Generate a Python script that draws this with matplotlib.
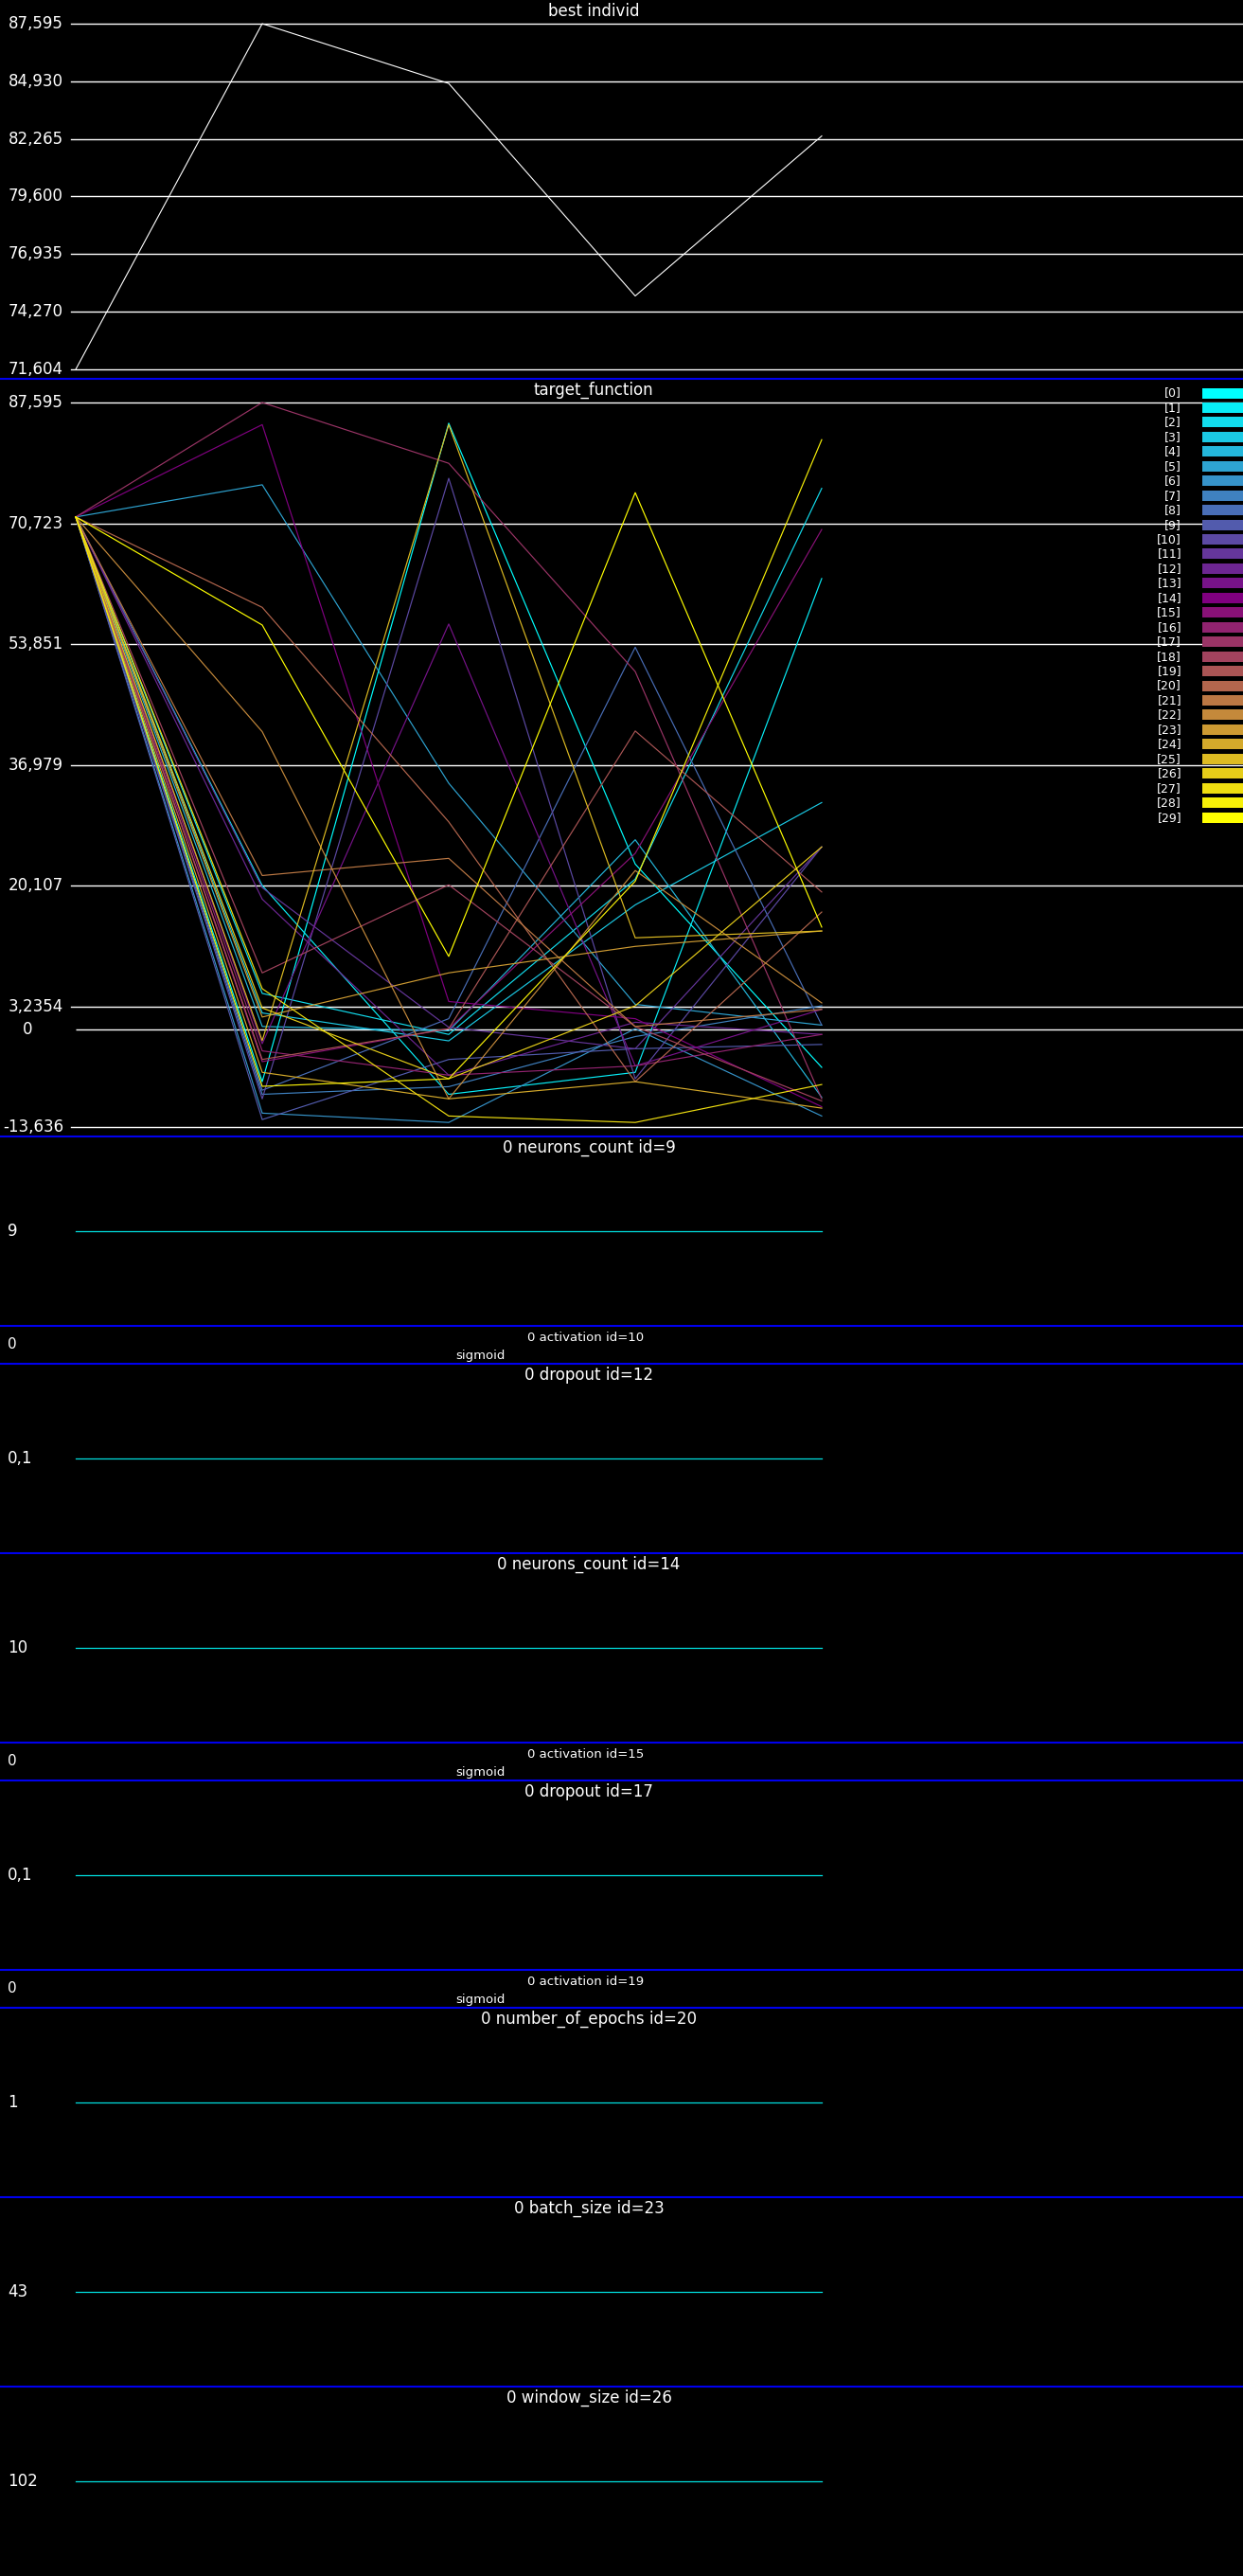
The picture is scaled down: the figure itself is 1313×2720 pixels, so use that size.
import matplotlib
matplotlib.use("Agg")
import matplotlib.pyplot as plt
from matplotlib import transforms
from matplotlib.patches import Rectangle
from matplotlib.colors import LinearSegmentedColormap

W, H = 1313, 2720  # output size in pixels

# ---- data ----
generations = [0, 1, 2, 3, 4]
best_individ = [71.604, 87.595, 84.83, 75.0, 82.4]
best_ticks = [71.604, 74.270, 76.935, 79.600, 82.265, 84.930, 87.595]
target_ticks = [87.595, 70.723, 53.851, 36.979, 20.107, 3.2354, 0, -13.636]

start_value = 71.604  # every individual starts here (generation 0)
# generations 1..4 for individuals [0]..[29]
individ_values = [
    [-7.3, 84.7, 23.1, -5.3],
    [20.1, -9.07, -6.0, 63.0],
    [5.03, -0.7, 21.0, 75.6],
    [2.3, -1.6, 17.4, 31.7],
    [0.41, -0.2, 26.5, -9.5],
    [76.1, 34.4, 3.5, 0.6],
    [-11.7, -13.0, 0.1, -12.1],
    [-9.07, -8.0, -1.0, 3.3],
    [-8.5, 1.5, 53.4, 0.6],
    [-12.6, -4.2, -2.7, -2.1],
    [-9.7, 77.0, -6.9, 25.5],
    [19.8, 0.3, -2.7, 25.5],
    [18.2, -6.4, 1.0, -0.7],
    [-2.0, 56.65, -5.1, 2.8],
    [84.5, 3.9, 1.5, -10.8],
    [-4.5, 0.1, 24.6, 69.85],
    [-3.0, -6.4, -5.1, -0.7],
    [87.595, 79.1, 50.0, -9.7],
    [7.9, 20.2, 0.4, -10.0],
    [-4.2, 0.1, 41.7, 19.2],
    [58.97, 29.0, -7.3, 16.4],
    [21.5, 23.9, 0.4, 2.8],
    [41.6, -9.7, 22.2, 3.7],
    [1.73, 7.9, 11.6, 13.75],
    [-6.0, -9.7, -7.3, -11.0],
    [-1.57, 84.5, 12.8, 13.75],
    [3.0, -6.9, 3.3, 25.5],
    [5.69, -12.1, -13.0, -7.7],
    [-7.95, -6.9, 20.7, 82.4],
    [56.5, 10.2, 75.0, 14.3],
]

param_titles = ["0 neurons_count id=9", "0 activation id=10", "0 dropout id=12",
                "0 neurons_count id=14", "0 activation id=15", "0 dropout id=17",
                "0 activation id=19", "0 number_of_epochs id=20", "0 batch_size id=23",
                "0 window_size id=26"]
param_series = [[9, 9, 9, 9, 9], "sigmoid", [0.1, 0.1, 0.1, 0.1, 0.1],
                [10, 10, 10, 10, 10], "sigmoid", [0.1, 0.1, 0.1, 0.1, 0.1],
                "sigmoid", [1, 1, 1, 1, 1], [43, 43, 43, 43, 43],
                [102, 102, 102, 102, 102]]

# ---- style ----
plt.rcParams['font.family'] = ['DejaVu Sans']
BLUE = "#0000ee"
PARAM_LINE = "#00e0e0"
cmap = LinearSegmentedColormap.from_list(
    "individs", [(0, "#00ffff"), (14 / 29, "#800080"), (1, "#ffff00")])


def fmt(v, spec):
    return format(v, spec).replace(".", ",")


fig = plt.figure(figsize=(W / 100, H / 100), dpi=100, facecolor="black")

# overlay in pixel coordinates for titles, separators and legend
over = fig.add_axes([0, 0, 1, 1])
over.set_xlim(0, W)
over.set_ylim(H, 0)
over.axis("off")
over.set_zorder(5)


def px_axes(top, bottom, left=75, right=W):
    ax = fig.add_axes([left / W, 1 - bottom / H, (right - left) / W, (bottom - top) / H])
    ax.set_facecolor("none")
    ax.axis("off")
    ax.set_xlim((left - 80) / 197, (right - 80) / 197)  # gen 0 at x=80, 197px per gen
    return ax


def label_tr(ax):
    return transforms.blended_transform_factory(over.transData, ax.transData)


# ---- best individ ----
ax = px_axes(25, 390)
ax.set_ylim(min(best_ticks), max(best_ticks))
for t in best_ticks:
    ax.axhline(t, color="white", lw=1.0, clip_on=False)
    ax.text(67, t, fmt(t, ".3f"), transform=label_tr(ax), ha="right", va="center",
            color="white", fontsize=12, clip_on=False)
ax.plot(generations, best_individ, color="white", lw=0.8, clip_on=False)
over.text(627, 12, "best individ", ha="center", va="center", color="white", fontsize=12)
over.hlines(400, 0, W, color=BLUE, lw=1.5)

# ---- target_function ----
ax = px_axes(425, 1190)
ax.set_ylim(min(target_ticks), max(target_ticks))
for t in target_ticks:
    if t == 0:
        ax.hlines(0, 0, ax.get_xlim()[1], color="white", lw=1.0, clip_on=False)
        ax.text(29, t, "0", transform=label_tr(ax), ha="center", va="center",
                color="white", fontsize=12, clip_on=False)
    else:
        ax.axhline(t, color="white", lw=1.0, clip_on=False)
        ax.text(67, t, fmt(t, ".5g"), transform=label_tr(ax), ha="right", va="center",
                color="white", fontsize=12, clip_on=False)
for i, vals in enumerate(individ_values):
    ax.plot(generations, [start_value] + vals, color=cmap(i / 29), lw=0.85, clip_on=False)
over.text(627, 412, "target_function", ha="center", va="center", color="white", fontsize=12)

# legend
for i in range(len(individ_values)):
    y = 415 + i * 15.45
    over.text(1248, y, f"[{i}]", ha="right", va="center", color="white", fontsize=9)
    over.add_patch(Rectangle((1270, y - 5.5), 43, 11, color=cmap(i / 29), lw=0))

# ---- parameter panels ----
y = 1200
for title, series in zip(param_titles, param_series):
    over.hlines(y, 0, W, color=BLUE, lw=1.5)
    if isinstance(series, str):
        h = 40
        over.text(619, y + 12, title, ha="center", va="center", color="white", fontsize=9.5)
        over.text(507, y + 32, series, ha="center", va="center", color="white", fontsize=9.5)
        over.text(8, y + 20, "0", ha="left", va="center", color="white", fontsize=11)
    else:
        h = 200
        v = series[0]
        pax = px_axes(y, y + h)
        pax.set_ylim(v - 1, v + 1)
        pax.plot(generations, series, color=PARAM_LINE, lw=0.9)
        pax.text(8, v, fmt(v, "g"), transform=label_tr(pax), ha="left", va="center",
                 color="white", fontsize=12, clip_on=False)
        over.text(622, y + 12, title, ha="center", va="center", color="white", fontsize=12)
    y += h

fig.savefig("out.png", dpi=100, facecolor="black")
